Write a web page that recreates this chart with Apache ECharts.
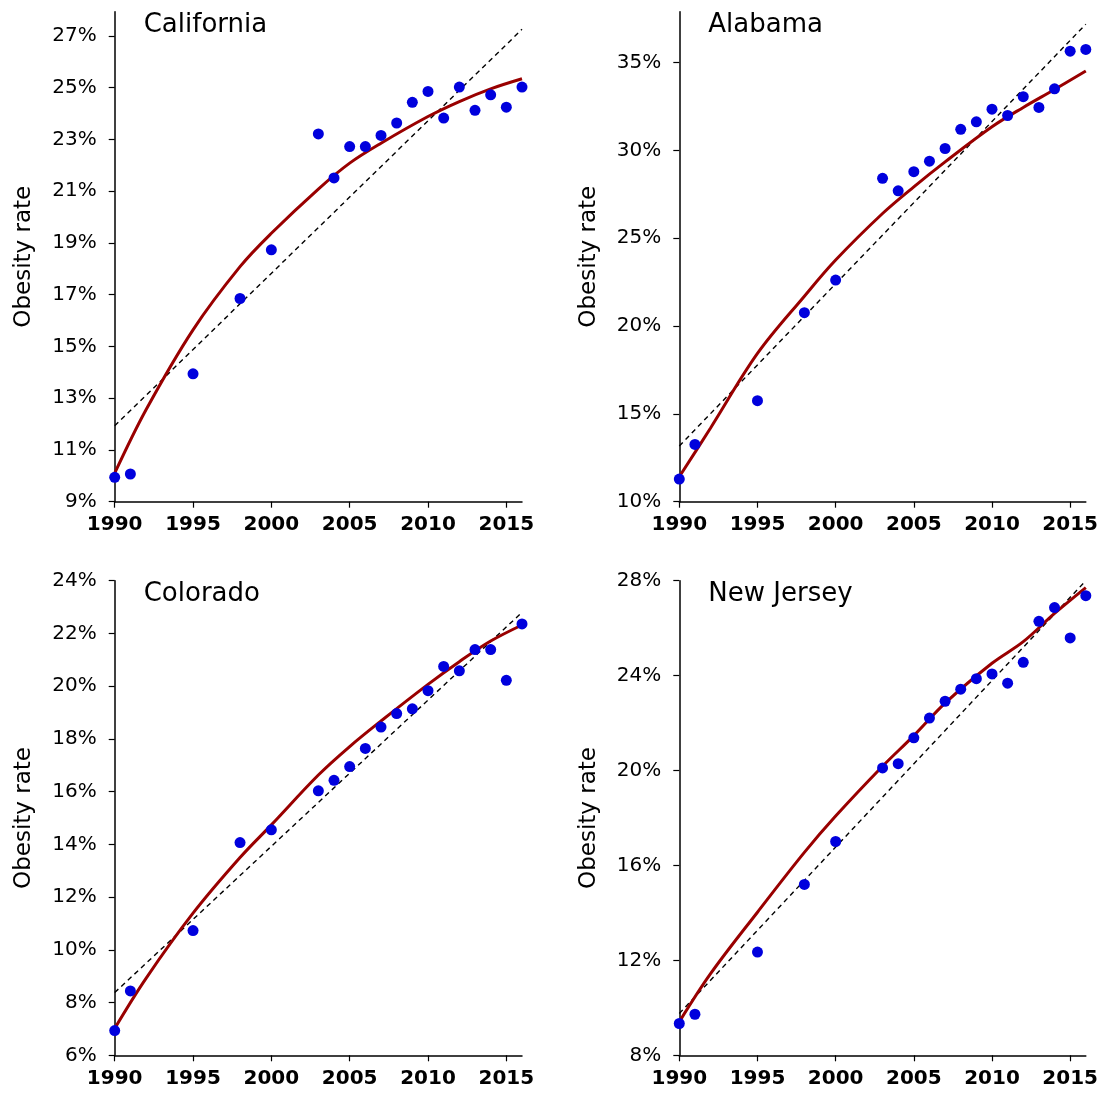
<!DOCTYPE html>
<html>
<head>
<meta charset="utf-8">
<title>Obesity rate by state</title>
<script src="https://cdn.jsdelivr.net/npm/echarts@6/dist/echarts.min.js"></script>
<style>
  html, body { margin: 0; padding: 0; background: #ffffff; }
  #chart { width: 1101px; height: 1107px; }
</style>
</head>
<body>
<div id="chart"></div>
<script>
// Survey years with observed obesity rates (percent)
const surveyYears = [1990, 1991, 1995, 1998, 2000, 2003, 2004, 2005, 2006, 2007,
                     2008, 2009, 2010, 2011, 2012, 2013, 2014, 2015, 2016];

const californiaRates = [9.94, 10.07, 13.94, 16.85, 18.73, 23.21, 21.51, 22.72, 22.72, 23.15,
                         23.63, 24.43, 24.85, 23.82, 25.02, 24.12, 24.72, 24.24, 25.02];
const alabamaRates    = [11.29, 13.26, 15.75, 20.76, 22.62, 28.41, 27.70, 28.79, 29.39, 30.11,
                         31.20, 31.63, 32.35, 31.99, 33.06, 32.45, 33.51, 35.65, 35.75];
const coloradoRates   = [6.94, 8.44, 10.73, 14.07, 14.55, 16.03, 16.43, 16.95, 17.64, 18.45,
                         18.96, 19.14, 19.83, 20.75, 20.58, 21.39, 21.39, 20.22, 22.36];
const newJerseyRates  = [9.34, 9.73, 12.35, 15.20, 17.01, 20.11, 20.29, 21.38, 22.21, 22.92,
                         23.43, 23.87, 24.07, 23.68, 24.56, 26.29, 26.87, 25.59, 27.37];

// Smoothed fit values (percent) at selected years
const fitYears = [1990, 1992, 1995, 1998, 2000, 2003, 2005, 2007, 2010, 2012, 2014, 2016];
const californiaFit = [10.10, 12.55, 15.64, 18.08, 19.37, 21.08, 22.08, 22.85, 23.88, 24.46, 24.95, 25.34];
const alabamaFit    = [11.42, 14.20, 18.44, 21.70, 23.76, 26.41, 27.93, 29.35, 31.35, 32.45, 33.47, 34.52];
const coloradoFit   = [7.02, 8.92, 11.39, 13.50, 14.74, 16.63, 17.71, 18.68, 20.07, 20.93, 21.71, 22.32];
const newJerseyFit  = [9.41, 11.44, 14.03, 16.55, 18.08, 20.18, 21.47, 22.84, 24.52, 25.43, 26.62, 27.71];

// Linear trend endpoints (percent) at the first and last year
const trendYears = [1990, 2016];
const californiaTrend = [11.93, 27.25];
const alabamaTrend    = [13.17, 37.19];
const coloradoTrend   = [8.38, 22.80];
const newJerseyTrend  = [9.76, 28.00];

// Tick labels
const yearTicks = [1990, 1995, 2000, 2005, 2010, 2015];
const californiaTicks = [9, 11, 13, 15, 17, 19, 21, 23, 25, 27];
const alabamaTicks    = [10, 15, 20, 25, 30, 35];
const coloradoTicks   = [6, 8, 10, 12, 14, 16, 18, 20, 22, 24];
const newJerseyTicks  = [8, 12, 16, 20, 24, 28];

const stateNames = ['California', 'Alabama', 'Colorado', 'New Jersey'];

const panels = [
  { name: stateNames[0], rates: californiaRates, fit: californiaFit, trend: californiaTrend,
    ticks: californiaTicks, yMin: 9, yMax: 27.93 },
  { name: stateNames[1], rates: alabamaRates, fit: alabamaFit, trend: alabamaTrend,
    ticks: alabamaTicks, yMin: 10, yMax: 37.9 },
  { name: stateNames[2], rates: coloradoRates, fit: coloradoFit, trend: coloradoTrend,
    ticks: coloradoTicks, yMin: 6, yMax: 24 },
  { name: stateNames[3], rates: newJerseyRates, fit: newJerseyFit, trend: newJerseyTrend,
    ticks: newJerseyTicks, yMin: 8, yMax: 28 }
];

// Panel placement (pixels)
const gridBoxes = [
  { left: 114.7, top: 11.7,  width: 407.3, height: 490 },
  { left: 679.3, top: 11.7,  width: 407.4, height: 490 },
  { left: 114.7, top: 580.7, width: 407.3, height: 474.6 },
  { left: 679.3, top: 580.7, width: 407.4, height: 474.6 }
];

const FONT = '"DejaVu Sans", Verdana, sans-serif';
const zip = (xs, ys) => xs.map((x, i) => [x, ys[i]]);

const grid = [], xAxis = [], yAxis = [], series = [], title = [];

panels.forEach((p, i) => {
  const g = gridBoxes[i];
  grid.push({ left: g.left, top: g.top, width: g.width, height: g.height, containLabel: false });

  xAxis.push({
    type: 'value', gridIndex: i, min: 1990, max: 2016,
    axisLine: { show: true, onZero: false, lineStyle: { color: '#000', width: 1.5 } },
    axisTick: { show: true, inside: false, length: 6, customValues: yearTicks,
                lineStyle: { color: '#000', width: 1.2 } },
    axisLabel: { show: true, customValues: yearTicks, margin: 13,
                 fontFamily: FONT, fontSize: 20, fontWeight: 'bold', color: '#000',
                 formatter: v => String(v) },
    splitLine: { show: false }
  });

  yAxis.push({
    type: 'value', gridIndex: i, min: p.yMin, max: p.yMax,
    name: 'Obesity rate', nameLocation: 'middle', nameRotate: 90, nameGap: 79,
    nameTextStyle: { fontFamily: FONT, fontSize: 23, color: '#000' },
    axisLine: { show: true, onZero: false, lineStyle: { color: '#000', width: 1.5 } },
    axisTick: { show: true, inside: false, length: 6, customValues: p.ticks,
                lineStyle: { color: '#000', width: 1.2 } },
    axisLabel: { show: true, customValues: p.ticks, margin: 18,
                 fontFamily: FONT, fontSize: 20, color: '#000',
                 formatter: v => v + '%' },
    splitLine: { show: false }
  });

  series.push({
    type: 'line', name: p.name + ' trend', xAxisIndex: i, yAxisIndex: i,
    data: zip(trendYears, p.trend), symbol: 'none', silent: true, z: 2,
    lineStyle: { color: '#000', width: 1.4, type: [5, 4] }
  });
  series.push({
    type: 'line', name: p.name + ' fit', xAxisIndex: i, yAxisIndex: i,
    data: zip(fitYears, p.fit), symbol: 'none', smooth: 0.35,
    silent: true, z: 3,
    lineStyle: { color: '#990000', width: 3 }
  });
  series.push({
    type: 'scatter', name: p.name, xAxisIndex: i, yAxisIndex: i,
    data: zip(surveyYears, p.rates), symbol: 'circle', symbolSize: 11, z: 4,
    itemStyle: { color: '#0000dd', opacity: 1 }
  });

  title.push({
    text: p.name, left: g.left + 24, top: g.top - 4,
    textStyle: { fontFamily: FONT, fontSize: 26, fontWeight: 'normal', color: '#000' }
  });
});

const chart = echarts.init(document.getElementById('chart'), null, { renderer: 'canvas' });
chart.setOption({
  animation: false,
  backgroundColor: '#ffffff',
  title, grid, xAxis, yAxis, series
});
</script>
</body>
</html>
